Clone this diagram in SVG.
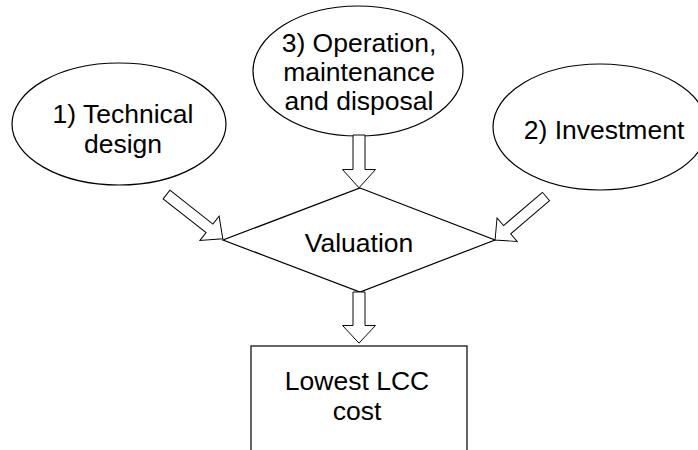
<svg xmlns="http://www.w3.org/2000/svg" width="698" height="450" viewBox="0 0 698 450">
  <defs>
    <style>
      .shape { fill: #ffffff; stroke: #000000; stroke-width: 1.2; }
      .arrow { fill: #ffffff; stroke: #000000; stroke-width: 1; stroke-linejoin: miter; }
      .label { font-family: "Liberation Sans", Arial, sans-serif; font-size: 26.5px; fill: #000000; text-anchor: middle; }
    </style>
    <!-- hollow block arrows, pointing along +x, tail at the origin -->
    <polygon id="arrow-diag" points="0,-5.5 55,-5.5 55,-15.5 72,0 55,15.5 55,5.5 0,5.5"/>
    <polygon id="arrow-short" points="0,-6 36,-6 36,-16.5 55,0 36,16.5 36,6 0,6"/>
  </defs>
  <rect width="698" height="450" fill="#ffffff"/>

  <g id="node-technical-design">
    <ellipse class="shape" cx="119" cy="124" rx="107" ry="61"/>
    <text class="label" x="123" y="123">1) Technical</text>
    <text class="label" x="123" y="153">design</text>
  </g>

  <g id="node-operation">
    <ellipse class="shape" cx="358" cy="71" rx="105" ry="65"/>
    <text class="label" x="359" y="52">3) Operation,</text>
    <text class="label" x="359" y="81">maintenance</text>
    <text class="label" x="359" y="110">and disposal</text>
  </g>

  <g id="node-investment">
    <ellipse class="shape" cx="600" cy="127" rx="107" ry="63"/>
    <text class="label" x="604" y="139">2) Investment</text>
  </g>

  <g id="node-valuation">
    <polygon class="shape" points="360,188 495,240 360,292 223,240"/>
    <text class="label" x="359" y="252">Valuation</text>
  </g>

  <g id="node-lowest-lcc">
    <rect class="shape" x="251" y="346" width="216" height="120"/>
    <text class="label" x="357" y="390">Lowest LCC</text>
    <text class="label" x="357" y="420">cost</text>
  </g>

  <g id="connectors">
    <use href="#arrow-diag" class="arrow" transform="translate(166.5,194.5) rotate(38.2) scale(0.995,1)"/>
    <use href="#arrow-diag" class="arrow" transform="translate(546,196.5) rotate(139.5) scale(0.93,1)"/>
    <use href="#arrow-short" class="arrow" transform="translate(359,135) rotate(90) scale(0.96,1)"/>
    <use href="#arrow-short" class="arrow" transform="translate(359,292) rotate(90) scale(0.93,1)"/>
  </g>
</svg>
